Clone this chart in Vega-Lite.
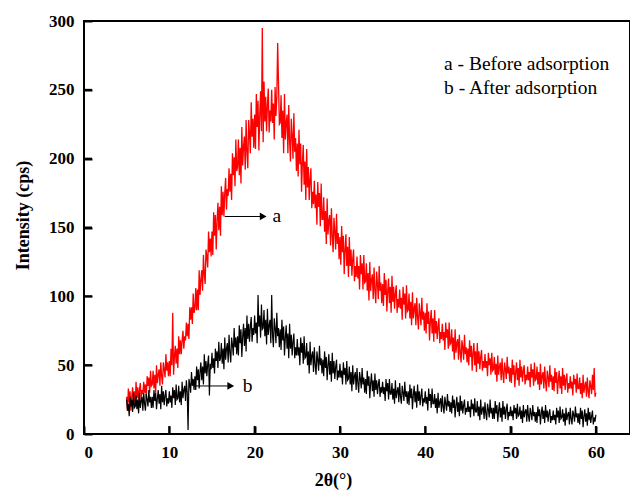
{
"$schema": "https://vega.github.io/schema/vega-lite/v6.json",
"autosize": {"type": "none"},
"width": 546, "height": 413,
"padding": {"left": 84, "top": 21, "right": 0, "bottom": 57},
"background": "white",
"config": {"view": {"stroke": "#000", "strokeWidth": 2}, "font": "Liberation Serif"},
"datasets": {
"xrd": [
{"x":5.0,"a":27,"b":25},{"x":5.1,"a":17,"b":17},{"x":5.2,"a":33,"b":22},{"x":5.3,"a":23,"b":13},{"x":5.4,"a":31,"b":27},{"x":5.5,"a":17,"b":20},{"x":5.6,"a":27,"b":25},{"x":5.7,"a":34,"b":16},{"x":5.8,"a":23,"b":30},{"x":5.9,"a":31,"b":19},
{"x":6.0,"a":20,"b":20},{"x":6.1,"a":38,"b":28},{"x":6.2,"a":26,"b":18},{"x":6.3,"a":34,"b":25},{"x":6.4,"a":25,"b":15},{"x":6.5,"a":32,"b":30},{"x":6.6,"a":37,"b":19},{"x":6.7,"a":25,"b":24},{"x":6.8,"a":32,"b":27},{"x":6.9,"a":29,"b":17},
{"x":7.0,"a":38,"b":30},{"x":7.1,"a":30,"b":22},{"x":7.2,"a":36,"b":17},{"x":7.3,"a":26,"b":29},{"x":7.4,"a":42,"b":25},{"x":7.5,"a":35,"b":20},{"x":7.6,"a":41,"b":32},{"x":7.7,"a":30,"b":23},{"x":7.8,"a":46,"b":27},{"x":7.9,"a":35,"b":19},
{"x":8.0,"a":36,"b":27},{"x":8.1,"a":46,"b":19},{"x":8.2,"a":33,"b":32},{"x":8.3,"a":43,"b":24},{"x":8.4,"a":30,"b":30},{"x":8.5,"a":50,"b":18},{"x":8.6,"a":37,"b":26},{"x":8.7,"a":43,"b":32},{"x":8.8,"a":47,"b":22},{"x":8.9,"a":35,"b":29},
{"x":9.0,"a":52,"b":18},{"x":9.1,"a":42,"b":35},{"x":9.2,"a":36,"b":23},{"x":9.3,"a":52,"b":31},{"x":9.4,"a":47,"b":21},{"x":9.5,"a":41,"b":28},{"x":9.6,"a":58,"b":32},{"x":9.7,"a":46,"b":20},{"x":9.8,"a":52,"b":26},{"x":9.9,"a":42,"b":22},
{"x":10.0,"a":53,"b":31},{"x":10.1,"a":42,"b":23},{"x":10.2,"a":62,"b":28},{"x":10.3,"a":50,"b":19},{"x":10.4,"a":88,"b":34},{"x":10.5,"a":43,"b":26},{"x":10.6,"a":56,"b":32},{"x":10.7,"a":64,"b":21},{"x":10.8,"a":51,"b":36},{"x":10.9,"a":62,"b":25},
{"x":11.0,"a":48,"b":26},{"x":11.1,"a":71,"b":35},{"x":11.2,"a":58,"b":23},{"x":11.3,"a":68,"b":31},{"x":11.4,"a":58,"b":21},{"x":11.5,"a":68,"b":38},{"x":11.6,"a":75,"b":26},{"x":11.7,"a":62,"b":32},{"x":11.8,"a":71,"b":35},{"x":11.9,"a":68,"b":24},
{"x":12.0,"a":81,"b":39},{"x":12.1,"a":71,"b":30},{"x":12.2,"a":80,"b":3},{"x":12.3,"a":69,"b":40},{"x":12.4,"a":92,"b":36},{"x":12.5,"a":83,"b":30},{"x":12.6,"a":92,"b":45},{"x":12.7,"a":80,"b":35},{"x":12.8,"a":102,"b":40},{"x":12.9,"a":88,"b":32},
{"x":13.0,"a":91,"b":42},{"x":13.1,"a":106,"b":32},{"x":13.2,"a":90,"b":49},{"x":13.3,"a":105,"b":39},{"x":13.4,"a":90,"b":47},{"x":13.5,"a":119,"b":33},{"x":13.6,"a":101,"b":45},{"x":13.7,"a":112,"b":52},{"x":13.8,"a":119,"b":39},{"x":13.9,"a":104,"b":49},
{"x":14.0,"a":130,"b":36},{"x":14.1,"a":116,"b":58},{"x":14.2,"a":109,"b":44},{"x":14.3,"a":134,"b":53},{"x":14.4,"a":129,"b":42},{"x":14.5,"a":121,"b":51},{"x":14.6,"a":147,"b":57},{"x":14.7,"a":132,"b":28},{"x":14.8,"a":142,"b":51},{"x":14.9,"a":129,"b":47},
{"x":15.0,"a":147,"b":59},{"x":15.1,"a":130,"b":48},{"x":15.2,"a":161,"b":55},{"x":15.3,"a":144,"b":44},{"x":15.4,"a":159,"b":62},{"x":15.5,"a":134,"b":53},{"x":15.6,"a":155,"b":60},{"x":15.7,"a":168,"b":48},{"x":15.8,"a":148,"b":67},{"x":15.9,"a":165,"b":53},
{"x":16.0,"a":144,"b":55},{"x":16.1,"a":180,"b":66},{"x":16.2,"a":159,"b":51},{"x":16.3,"a":176,"b":62},{"x":16.4,"a":158,"b":47},{"x":16.5,"a":175,"b":70},{"x":16.6,"a":186,"b":54},{"x":16.7,"a":163,"b":62},{"x":16.8,"a":178,"b":66},{"x":16.9,"a":173,"b":52},
{"x":17.0,"a":193,"b":72},{"x":17.1,"a":176,"b":59},{"x":17.2,"a":189,"b":52},{"x":17.3,"a":170,"b":70},{"x":17.4,"a":204,"b":65},{"x":17.5,"a":188,"b":57},{"x":17.6,"a":201,"b":77},{"x":17.7,"a":180,"b":63},{"x":17.8,"a":214,"b":70},{"x":17.9,"a":191,"b":58},
{"x":18.0,"a":194,"b":71},{"x":18.1,"a":214,"b":57},{"x":18.2,"a":188,"b":79},{"x":18.3,"a":208,"b":66},{"x":18.4,"a":182,"b":76},{"x":18.5,"a":223,"b":56},{"x":18.6,"a":195,"b":71},{"x":18.7,"a":209,"b":80},{"x":18.8,"a":216,"b":64},{"x":18.9,"a":192,"b":77},
{"x":19.0,"a":228,"b":60},{"x":19.1,"a":205,"b":86},{"x":19.2,"a":193,"b":69},{"x":19.3,"a":228,"b":80},{"x":19.4,"a":218,"b":67},{"x":19.5,"a":204,"b":78},{"x":19.6,"a":241,"b":85},{"x":19.7,"a":216,"b":67},{"x":19.8,"a":229,"b":77},{"x":19.9,"a":208,"b":72},
{"x":20.0,"a":232,"b":86},{"x":20.1,"a":207,"b":73},{"x":20.2,"a":247,"b":81},{"x":20.3,"a":223,"b":66},{"x":20.4,"a":242,"b":101},{"x":20.5,"a":206,"b":78},{"x":20.6,"a":232,"b":86},{"x":20.7,"a":249,"b":70},{"x":20.8,"a":220,"b":94},{"x":20.9,"a":295,"b":76},
{"x":21.0,"a":212,"b":77},{"x":21.1,"a":256,"b":90},{"x":21.2,"a":227,"b":71},{"x":21.3,"a":245,"b":83},{"x":21.4,"a":220,"b":65},{"x":21.5,"a":239,"b":91},{"x":21.6,"a":251,"b":72},{"x":21.7,"a":219,"b":79},{"x":21.8,"a":235,"b":83},{"x":21.9,"a":227,"b":66},
{"x":22.0,"a":250,"b":101},{"x":22.1,"a":226,"b":72},{"x":22.2,"a":240,"b":63},{"x":22.3,"a":214,"b":84},{"x":22.4,"a":252,"b":77},{"x":22.5,"a":231,"b":66},{"x":22.6,"a":245,"b":88},{"x":22.7,"a":284,"b":71},{"x":22.8,"a":255,"b":77},{"x":22.9,"a":225,"b":63},
{"x":23.0,"a":226,"b":76},{"x":23.1,"a":246,"b":61},{"x":23.2,"a":215,"b":83},{"x":23.3,"a":235,"b":68},{"x":23.4,"a":204,"b":78},{"x":23.5,"a":247,"b":57},{"x":23.6,"a":214,"b":70},{"x":23.7,"a":226,"b":79},{"x":23.8,"a":232,"b":62},{"x":23.9,"a":204,"b":73},
{"x":24.0,"a":239,"b":55},{"x":24.1,"a":213,"b":80},{"x":24.2,"a":198,"b":62},{"x":24.3,"a":229,"b":72},{"x":24.4,"a":217,"b":57},{"x":24.5,"a":200,"b":67},{"x":24.6,"a":233,"b":73},{"x":24.7,"a":205,"b":55},{"x":24.8,"a":215,"b":63},{"x":24.9,"a":191,"b":57},
{"x":25.0,"a":211,"b":69},{"x":25.1,"a":187,"b":57},{"x":25.2,"a":221,"b":63},{"x":25.3,"a":196,"b":50},{"x":25.4,"a":211,"b":70},{"x":25.5,"a":176,"b":59},{"x":25.6,"a":197,"b":66},{"x":25.7,"a":210,"b":51},{"x":25.8,"a":181,"b":71},{"x":25.9,"a":198,"b":55},
{"x":26.0,"a":170,"b":56},{"x":26.1,"a":207,"b":66},{"x":26.2,"a":179,"b":50},{"x":26.3,"a":194,"b":60},{"x":26.4,"a":170,"b":44},{"x":26.5,"a":185,"b":67},{"x":26.6,"a":193,"b":50},{"x":26.7,"a":164,"b":57},{"x":26.8,"a":176,"b":60},{"x":26.9,"a":167,"b":45},
{"x":27.0,"a":184,"b":63},{"x":27.1,"a":164,"b":50},{"x":27.2,"a":174,"b":43},{"x":27.3,"a":152,"b":60},{"x":27.4,"a":183,"b":54},{"x":27.5,"a":165,"b":46},{"x":27.6,"a":175,"b":64},{"x":27.7,"a":151,"b":50},{"x":27.8,"a":182,"b":55},{"x":27.9,"a":156,"b":44},
{"x":28.0,"a":156,"b":54},{"x":28.1,"a":172,"b":42},{"x":28.2,"a":147,"b":60},{"x":28.3,"a":162,"b":48},{"x":28.4,"a":138,"b":56},{"x":28.5,"a":171,"b":39},{"x":28.6,"a":145,"b":50},{"x":28.7,"a":155,"b":58},{"x":28.8,"a":159,"b":43},{"x":28.9,"a":137,"b":53},
{"x":29.0,"a":164,"b":38},{"x":29.1,"a":144,"b":59},{"x":29.2,"a":132,"b":44},{"x":29.3,"a":157,"b":53},{"x":29.4,"a":147,"b":40},{"x":29.5,"a":134,"b":49},{"x":29.6,"a":160,"b":54},{"x":29.7,"a":138,"b":39},{"x":29.8,"a":146,"b":46},{"x":29.9,"a":127,"b":41},
{"x":30.0,"a":143,"b":51},{"x":30.1,"a":123,"b":41},{"x":30.2,"a":151,"b":46},{"x":30.3,"a":132,"b":36},{"x":30.4,"a":144,"b":52},{"x":30.5,"a":116,"b":43},{"x":30.6,"a":134,"b":48},{"x":30.7,"a":145,"b":36},{"x":30.8,"a":122,"b":53},{"x":30.9,"a":136,"b":39},
{"x":31.0,"a":114,"b":40},{"x":31.1,"a":143,"b":49},{"x":31.2,"a":122,"b":36},{"x":31.3,"a":134,"b":45},{"x":31.4,"a":115,"b":31},{"x":31.5,"a":127,"b":50},{"x":31.6,"a":134,"b":36},{"x":31.7,"a":111,"b":42},{"x":31.8,"a":122,"b":45},{"x":31.9,"a":114,"b":32},
{"x":32.0,"a":129,"b":48},{"x":32.1,"a":113,"b":37},{"x":32.2,"a":122,"b":30},{"x":32.3,"a":105,"b":45},{"x":32.4,"a":130,"b":40},{"x":32.5,"a":116,"b":33},{"x":32.6,"a":124,"b":48},{"x":32.7,"a":105,"b":36},{"x":32.8,"a":130,"b":41},{"x":32.9,"a":110,"b":30},
{"x":33.0,"a":111,"b":40},{"x":33.1,"a":124,"b":29},{"x":33.2,"a":104,"b":46},{"x":33.3,"a":117,"b":35},{"x":33.4,"a":97,"b":42},{"x":33.5,"a":125,"b":26},{"x":33.6,"a":104,"b":37},{"x":33.7,"a":112,"b":44},{"x":33.8,"a":116,"b":31},{"x":33.9,"a":98,"b":39},
{"x":34.0,"a":121,"b":27},{"x":34.1,"a":104,"b":44},{"x":34.2,"a":95,"b":32},{"x":34.3,"a":118,"b":39},{"x":34.4,"a":109,"b":29},{"x":34.5,"a":98,"b":36},{"x":34.6,"a":122,"b":40},{"x":34.7,"a":104,"b":27},{"x":34.8,"a":110,"b":34},{"x":34.9,"a":95,"b":30},
{"x":35.0,"a":109,"b":38},{"x":35.1,"a":93,"b":29},{"x":35.2,"a":117,"b":34},{"x":35.3,"a":101,"b":24},{"x":35.4,"a":112,"b":40},{"x":35.5,"a":89,"b":31},{"x":35.6,"a":104,"b":37},{"x":35.7,"a":113,"b":25},{"x":35.8,"a":95,"b":40},{"x":35.9,"a":107,"b":29},
{"x":36.0,"a":88,"b":29},{"x":36.1,"a":115,"b":37},{"x":36.2,"a":96,"b":25},{"x":36.3,"a":107,"b":33},{"x":36.4,"a":91,"b":22},{"x":36.5,"a":102,"b":39},{"x":36.6,"a":108,"b":26},{"x":36.7,"a":88,"b":31},{"x":36.8,"a":98,"b":34},{"x":36.9,"a":92,"b":23},
{"x":37.0,"a":105,"b":37},{"x":37.1,"a":91,"b":27},{"x":37.2,"a":99,"b":22},{"x":37.3,"a":83,"b":35},{"x":37.4,"a":107,"b":30},{"x":37.5,"a":94,"b":24},{"x":37.6,"a":102,"b":38},{"x":37.7,"a":84,"b":27},{"x":37.8,"a":108,"b":31},{"x":37.9,"a":89,"b":22},
{"x":38.0,"a":90,"b":31},{"x":38.1,"a":102,"b":21},{"x":38.2,"a":84,"b":36},{"x":38.3,"a":96,"b":26},{"x":38.4,"a":79,"b":33},{"x":38.5,"a":103,"b":18},{"x":38.6,"a":84,"b":28},{"x":38.7,"a":91,"b":35},{"x":38.8,"a":95,"b":23},{"x":38.9,"a":79,"b":31},
{"x":39.0,"a":99,"b":19},{"x":39.1,"a":85,"b":36},{"x":39.2,"a":76,"b":24},{"x":39.3,"a":95,"b":31},{"x":39.4,"a":88,"b":21},{"x":39.5,"a":79,"b":28},{"x":39.6,"a":99,"b":33},{"x":39.7,"a":83,"b":20},{"x":39.8,"a":89,"b":26},{"x":39.9,"a":75,"b":23},
{"x":40.0,"a":88,"b":31},{"x":40.1,"a":73,"b":22},{"x":40.2,"a":95,"b":27},{"x":40.3,"a":80,"b":17},{"x":40.4,"a":89,"b":33},{"x":40.5,"a":68,"b":24},{"x":40.6,"a":82,"b":29},{"x":40.7,"a":90,"b":19},{"x":40.8,"a":73,"b":33},{"x":40.9,"a":84,"b":22},
{"x":41.0,"a":67,"b":22},{"x":41.1,"a":90,"b":29},{"x":41.2,"a":73,"b":19},{"x":41.3,"a":82,"b":26},{"x":41.4,"a":69,"b":15},{"x":41.5,"a":78,"b":30},{"x":41.6,"a":84,"b":19},{"x":41.7,"a":66,"b":23},{"x":41.8,"a":74,"b":26},{"x":41.9,"a":69,"b":16},
{"x":42.0,"a":80,"b":28},{"x":42.1,"a":68,"b":20},{"x":42.2,"a":74,"b":15},{"x":42.3,"a":61,"b":27},{"x":42.4,"a":81,"b":22},{"x":42.5,"a":70,"b":17},{"x":42.6,"a":76,"b":29},{"x":42.7,"a":62,"b":20},{"x":42.8,"a":81,"b":24},{"x":42.9,"a":65,"b":16},
{"x":43.0,"a":66,"b":23},{"x":43.1,"a":76,"b":15},{"x":43.2,"a":60,"b":28},{"x":43.3,"a":70,"b":19},{"x":43.4,"a":54,"b":25},{"x":43.5,"a":76,"b":12},{"x":43.6,"a":59,"b":21},{"x":43.7,"a":66,"b":27},{"x":43.8,"a":69,"b":16},{"x":43.9,"a":54,"b":23},
{"x":44.0,"a":72,"b":13},{"x":44.1,"a":59,"b":28},{"x":44.2,"a":52,"b":17},{"x":44.3,"a":68,"b":24},{"x":44.4,"a":63,"b":15},{"x":44.5,"a":54,"b":21},{"x":44.6,"a":72,"b":25},{"x":44.7,"a":58,"b":14},{"x":44.8,"a":63,"b":19},{"x":44.9,"a":52,"b":16},
{"x":45.0,"a":62,"b":24},{"x":45.1,"a":50,"b":16},{"x":45.2,"a":68,"b":20},{"x":45.3,"a":56,"b":12},{"x":45.4,"a":64,"b":25},{"x":45.5,"a":46,"b":18},{"x":45.6,"a":59,"b":22},{"x":45.7,"a":66,"b":13},{"x":45.8,"a":50,"b":26},{"x":45.9,"a":60,"b":16},
{"x":46.0,"a":45,"b":16},{"x":46.1,"a":66,"b":24},{"x":46.2,"a":51,"b":13},{"x":46.3,"a":60,"b":20},{"x":46.4,"a":47,"b":10},{"x":46.5,"a":56,"b":25},{"x":46.6,"a":61,"b":14},{"x":46.7,"a":46,"b":18},{"x":46.8,"a":53,"b":20},{"x":46.9,"a":48,"b":11},
{"x":47.0,"a":58,"b":23},{"x":47.1,"a":48,"b":15},{"x":47.2,"a":53,"b":10},{"x":47.3,"a":42,"b":22},{"x":47.4,"a":59,"b":18},{"x":47.5,"a":50,"b":12},{"x":47.6,"a":55,"b":25},{"x":47.7,"a":43,"b":15},{"x":47.8,"a":59,"b":19},{"x":47.9,"a":46,"b":11},
{"x":48.0,"a":47,"b":19},{"x":48.1,"a":56,"b":11},{"x":48.2,"a":43,"b":24},{"x":48.3,"a":51,"b":15},{"x":48.4,"a":38,"b":21},{"x":48.5,"a":57,"b":9},{"x":48.6,"a":43,"b":17},{"x":48.7,"a":49,"b":23},{"x":48.8,"a":52,"b":12},{"x":48.9,"a":39,"b":19},
{"x":49.0,"a":55,"b":9},{"x":49.1,"a":44,"b":24},{"x":49.2,"a":37,"b":14},{"x":49.3,"a":52,"b":20},{"x":49.4,"a":47,"b":11},{"x":49.5,"a":40,"b":18},{"x":49.6,"a":56,"b":22},{"x":49.7,"a":44,"b":10},{"x":49.8,"a":49,"b":16},{"x":49.9,"a":38,"b":13},
{"x":50.0,"a":48,"b":20},{"x":50.1,"a":37,"b":13},{"x":50.2,"a":54,"b":17},{"x":50.3,"a":43,"b":10},{"x":50.4,"a":50,"b":21},{"x":50.5,"a":34,"b":15},{"x":50.6,"a":45,"b":19},{"x":50.7,"a":52,"b":11},{"x":50.8,"a":39,"b":22},{"x":50.9,"a":48,"b":13},
{"x":51.0,"a":35,"b":14},{"x":51.1,"a":54,"b":20},{"x":51.2,"a":41,"b":11},{"x":51.3,"a":49,"b":17},{"x":51.4,"a":38,"b":8},{"x":51.5,"a":46,"b":21},{"x":51.6,"a":50,"b":12},{"x":51.7,"a":36,"b":16},{"x":51.8,"a":43,"b":18},{"x":51.9,"a":39,"b":9},
{"x":52.0,"a":49,"b":21},{"x":52.1,"a":39,"b":13},{"x":52.2,"a":45,"b":9},{"x":52.3,"a":34,"b":19},{"x":52.4,"a":51,"b":15},{"x":52.5,"a":41,"b":10},{"x":52.6,"a":47,"b":21},{"x":52.7,"a":35,"b":13},{"x":52.8,"a":52,"b":16},{"x":52.9,"a":39,"b":9},
{"x":53.0,"a":40,"b":16},{"x":53.1,"a":49,"b":8},{"x":53.2,"a":36,"b":20},{"x":53.3,"a":45,"b":13},{"x":53.4,"a":32,"b":18},{"x":53.5,"a":51,"b":7},{"x":53.6,"a":36,"b":15},{"x":53.7,"a":42,"b":20},{"x":53.8,"a":45,"b":11},{"x":53.9,"a":33,"b":17},
{"x":54.0,"a":49,"b":8},{"x":54.1,"a":38,"b":21},{"x":54.2,"a":31,"b":12},{"x":54.3,"a":46,"b":17},{"x":54.4,"a":41,"b":9},{"x":54.5,"a":34,"b":15},{"x":54.6,"a":50,"b":18},{"x":54.7,"a":38,"b":8},{"x":54.8,"a":43,"b":13},{"x":54.9,"a":32,"b":10},
{"x":55.0,"a":42,"b":17},{"x":55.1,"a":31,"b":10},{"x":55.2,"a":48,"b":14},{"x":55.3,"a":37,"b":7},{"x":55.4,"a":45,"b":19},{"x":55.5,"a":29,"b":12},{"x":55.6,"a":39,"b":17},{"x":55.7,"a":46,"b":8},{"x":55.8,"a":33,"b":20},{"x":55.9,"a":42,"b":11},
{"x":56.0,"a":29,"b":12},{"x":56.1,"a":48,"b":18},{"x":56.2,"a":35,"b":9},{"x":56.3,"a":43,"b":15},{"x":56.4,"a":32,"b":6},{"x":56.5,"a":40,"b":19},{"x":56.6,"a":44,"b":10},{"x":56.7,"a":30,"b":14},{"x":56.8,"a":37,"b":16},{"x":56.9,"a":33,"b":7},
{"x":57.0,"a":42,"b":19},{"x":57.1,"a":33,"b":11},{"x":57.2,"a":38,"b":7},{"x":57.3,"a":28,"b":17},{"x":57.4,"a":43,"b":14},{"x":57.5,"a":36,"b":9},{"x":57.6,"a":40,"b":20},{"x":57.7,"a":30,"b":12},{"x":57.8,"a":44,"b":15},{"x":57.9,"a":33,"b":8},
{"x":58.0,"a":33,"b":15},{"x":58.1,"a":41,"b":7},{"x":58.2,"a":29,"b":19},{"x":58.3,"a":37,"b":11},{"x":58.4,"a":26,"b":17},{"x":58.5,"a":43,"b":5},{"x":58.6,"a":30,"b":13},{"x":58.7,"a":35,"b":18},{"x":58.8,"a":38,"b":9},{"x":58.9,"a":27,"b":15},
{"x":59.0,"a":41,"b":6},{"x":59.1,"a":31,"b":19},{"x":59.2,"a":26,"b":10},{"x":59.3,"a":39,"b":16},{"x":59.4,"a":35,"b":8},{"x":59.5,"a":29,"b":13},{"x":59.6,"a":43,"b":17},{"x":59.7,"a":32,"b":7},{"x":59.8,"a":48,"b":12},{"x":59.9,"a":27,"b":9},
{"x":60.0,"a":30,"b":14}
],
"notes": [
{"x":42.2,"y":268.5,"t":"a - Before adsorption"},
{"x":42.2,"y":251,"t":"b - After adsorption"},
{"x":22.1,"y":158,"t":"a"},
{"x":18.6,"y":34.9,"t":"b"}
],
"arrows": [
{"x1":16.5,"x2":21.0,"y":158},
{"x1":13.0,"x2":17.2,"y":34.9}
],
"xticks": [{"v":0},{"v":10},{"v":20},{"v":30},{"v":40},{"v":50},{"v":60}],
"yticks": [{"v":0},{"v":50},{"v":100},{"v":150},{"v":200},{"v":250},{"v":300}]
},
"layer": [
{
"data": {"name": "xrd"},
"mark": {"type": "line", "color": "#ff0000", "strokeWidth": 1.3, "clip": true},
"encoding": {
"x": {"field": "x", "type": "quantitative", "scale": {"domain": [0, 64], "nice": false, "zero": false},
"axis": {"values": [0,10,20,30,40,50,60], "title": "2θ(°)", "grid": false, "domain": false,
"ticks": true, "tickSize": -8, "tickWidth": 2, "tickColor": "#000", "labelPadding": 18,
"labelFont": "Liberation Serif", "labelFontWeight": "bold", "labelFontSize": 17, "labelColor": "#000",
"titleFont": "Liberation Serif", "titleFontWeight": "bold", "titleFontSize": 18, "titleColor": "#000",
"titleX": 249, "titleY": 46, "titleBaseline": "middle", "titleAlign": "center", "titleAnchor": null}},
"y": {"field": "a", "type": "quantitative", "scale": {"domain": [0, 300], "nice": false},
"axis": {"values": [0,50,100,150,200,250,300], "title": "Intensity (cps)", "grid": false, "domain": false,
"ticks": true, "tickSize": -8, "tickWidth": 2, "tickColor": "#000", "labelPadding": 18,
"labelFont": "Liberation Serif", "labelFontWeight": "bold", "labelFontSize": 17, "labelColor": "#000",
"titleFont": "Liberation Serif", "titleFontWeight": "bold", "titleFontSize": 18, "titleColor": "#000",
"titleX": -61, "titleY": 194, "titleAngle": -90, "titleBaseline": "middle", "titleAlign": "center", "titleAnchor": null}}
}
},
{
"data": {"name": "xrd"},
"mark": {"type": "line", "color": "#000000", "strokeWidth": 1.2, "clip": true},
"encoding": {
"x": {"field": "x", "type": "quantitative"},
"y": {"field": "b", "type": "quantitative"}
}
},
{
"data": {"name": "xticks"},
"mark": {"type": "rule", "color": "#000", "strokeWidth": 2},
"encoding": {
"x": {"field": "v", "type": "quantitative"},
"y": {"datum": 0, "type": "quantitative"},
"y2": {"datum": 5.8}
}
},
{
"data": {"name": "yticks"},
"mark": {"type": "rule", "color": "#000", "strokeWidth": 2},
"encoding": {
"y": {"field": "v", "type": "quantitative"},
"x": {"datum": 0, "type": "quantitative"},
"x2": {"datum": 0.94}
}
},
{
"data": {"name": "arrows"},
"mark": {"type": "rule", "color": "#000", "strokeWidth": 1},
"encoding": {
"x": {"field": "x1", "type": "quantitative"},
"x2": {"field": "x2"},
"y": {"field": "y", "type": "quantitative"}
}
},
{
"data": {"name": "arrows"},
"mark": {"type": "point", "shape": "triangle-right", "filled": true, "color": "#000", "size": 60, "opacity": 1},
"encoding": {
"x": {"field": "x2", "type": "quantitative"},
"y": {"field": "y", "type": "quantitative"}
}
},
{
"data": {"name": "notes"},
"mark": {"type": "text", "align": "left", "baseline": "middle", "font": "Liberation Serif", "fontSize": 19.5, "color": "#000"},
"encoding": {
"x": {"field": "x", "type": "quantitative"},
"y": {"field": "y", "type": "quantitative"},
"text": {"field": "t"}
}
}
]
}
